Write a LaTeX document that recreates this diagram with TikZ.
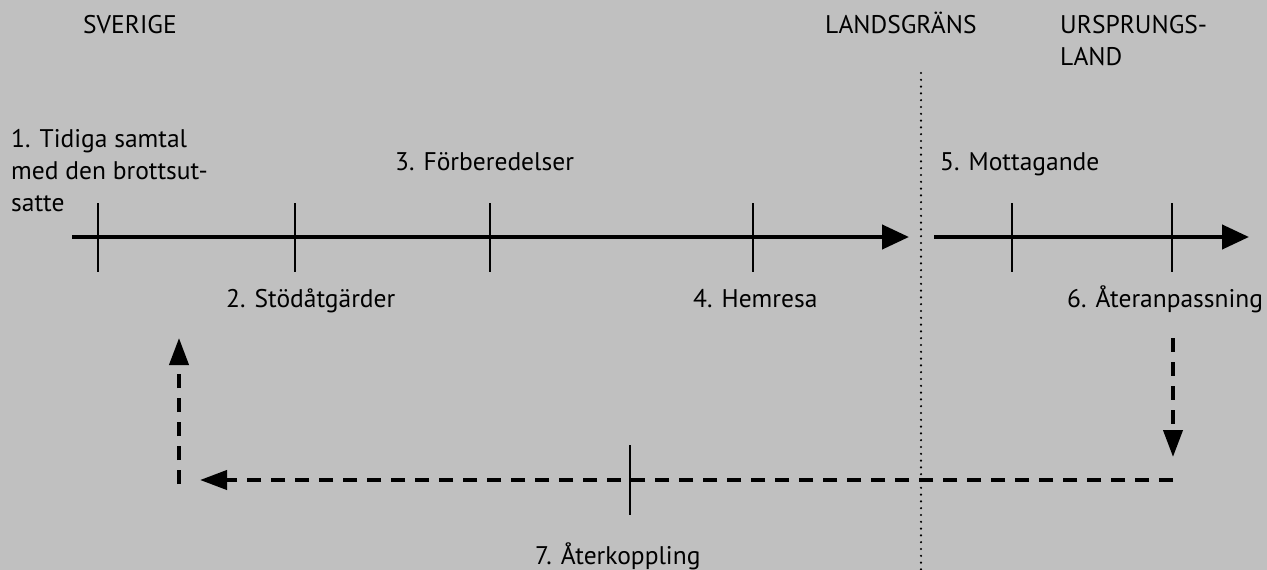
\documentclass[tikz,border=0pt]{standalone}
\usepackage{fontspec}
\setmainfont{PT Sans}
\usetikzlibrary{arrows.meta,positioning}

\definecolor{bggrey}{HTML}{C0C0C0}
\definecolor{ink}{HTML}{000000}

\begin{document}
\begin{tikzpicture}[x=1pt,y=-1pt,
    axis/.style={line width=4.3pt,-{Triangle[length=27pt,width=24pt]}},
    tickline/.style={line width=1.8pt},
    feedback/.style={line width=4pt,dash pattern=on 14pt off 10pt,
                     -{Triangle[length=27pt,width=19pt]}},
    border/.style={line width=2.4pt,line cap=round,dash pattern=on 0pt off 6.8pt},
    lbl/.style={anchor=base west,inner sep=0pt,text=ink,
                font=\fontsize{25.5}{32}\selectfont,align=left}]

    \useasboundingbox (0,0) rectangle (1267,570);
    \fill[bggrey] (0,0) rectangle (1267,570);

    % headings (multi-line nodes sit on their last baseline)
    \node[lbl] (sverige)  at (83,33)   {SVERIGE};
    \node[lbl] (grans)    at (825,33)  {LANDSGRÄNS};
    \node[lbl] (ursprung) at (1060,65) {URSPRUNGS-\\LAND};

    % steps
    \node[lbl] (s1) at (11,211)   {1. Tidiga samtal\\med den brottsut-\\satte};
    \node[lbl] (s2) at (226,307)  {2. Stödåtgärder};
    \node[lbl] (s3) at (395,170)  {3. Förberedelser};
    \node[lbl] (s4) at (693,307)  {4. Hemresa};
    \node[lbl] (s5) at (940,170)  {5. Mottagande};
    \node[lbl] (s6) at (1067,307) {6. Återanpassning};
    \node[lbl] (s7) at (535,564)  {7. Återkoppling};

    % border line
    \coordinate (btop) at (921,73);
    \coordinate (bbot) at (921,570);
    \draw[border] (btop) -- (bbot);

    % time axes
    \coordinate (a1s) at (72,237);
    \coordinate (a1e) at (909,237);
    \coordinate (a2s) at (934,237);
    \coordinate (a2e) at (1249,237);
    \draw[axis] (a1s) -- (a1e);
    \draw[axis] (a2s) -- (a2e);

    \foreach \tx [count=\i] in {98,295,490,753,1012,1172} {
        \coordinate (t\i a) at (\tx,203);
        \coordinate (t\i b) at (\tx,272);
        \draw[tickline] (t\i a) -- (t\i b);
    }

    % feedback loop
    \coordinate (f1) at (1173,338);
    \coordinate (f2) at (1173,457);
    \coordinate (f3) at (1173,480);
    \coordinate (f4) at (200,480);
    \coordinate (f5) at (179,484);
    \coordinate (f6) at (179,338);
    \draw[feedback] (f1) -- (f2);
    \draw[feedback] (f3) -- (f4);
    \draw[feedback] (f5) -- (f6);

    \coordinate (k1) at (630,445);
    \coordinate (k2) at (630,515);
    \draw[tickline] (k1) -- (k2);
\end{tikzpicture}
\end{document}
